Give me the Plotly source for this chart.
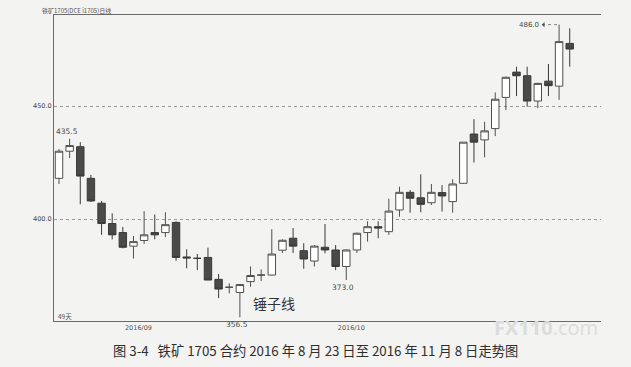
import plotly.graph_objects as go

# Trading days of the DCE iron ore contract i1705 (49 sessions)
dates = [
    "2016-08-23", "2016-08-24", "2016-08-25", "2016-08-26", "2016-08-29", "2016-08-30", "2016-08-31",
    "2016-09-01", "2016-09-02", "2016-09-05", "2016-09-06", "2016-09-07", "2016-09-08", "2016-09-09",
    "2016-09-12", "2016-09-13", "2016-09-14", "2016-09-19", "2016-09-20", "2016-09-21", "2016-09-22",
    "2016-09-23", "2016-09-26", "2016-09-27", "2016-09-28", "2016-09-29", "2016-09-30",
    "2016-10-10", "2016-10-11", "2016-10-12", "2016-10-13", "2016-10-14", "2016-10-17", "2016-10-18",
    "2016-10-19", "2016-10-20", "2016-10-21", "2016-10-24", "2016-10-25", "2016-10-26", "2016-10-27",
    "2016-10-28", "2016-10-31", "2016-11-01", "2016-11-02", "2016-11-03", "2016-11-04", "2016-11-07",
    "2016-11-08",
]

open_ = [418.0, 430.0, 432.0, 418.0, 407.0, 398.0, 394.0, 388.0, 390.5, 394.0,
         394.0, 398.5, 383.2, 382.6, 383.0, 373.3, 369.8, 367.5, 372.3, 375.2,
         375.2, 386.2, 391.5, 386.0, 381.4, 387.5, 386.3, 379.0, 386.3, 394.0,
         396.6, 394.4, 404.0, 411.8, 409.4, 407.2, 411.7, 407.7, 415.8, 437.6,
         435.0, 440.0, 453.8, 465.0, 463.4, 452.2, 461.0, 458.8, 477.7]
high = [431.0, 435.5, 434.0, 419.5, 408.0, 402.5, 396.5, 392.5, 403.5, 402.0,
        403.0, 399.0, 386.6, 384.5, 387.3, 375.7, 371.5, 371.2, 379.0, 377.7,
        395.5, 391.0, 396.0, 389.3, 388.5, 397.8, 388.5, 386.5, 394.0, 399.0,
        399.0, 409.0, 414.3, 412.8, 419.8, 415.5, 415.0, 417.6, 434.0, 444.2,
        443.0, 456.0, 463.0, 467.4, 467.4, 460.3, 468.6, 486.0, 484.4]
low = [415.5, 427.0, 406.5, 407.5, 393.0, 391.0, 387.0, 382.5, 389.0, 391.0,
       392.0, 381.5, 378.2, 377.4, 373.0, 365.0, 367.1, 356.5, 370.0, 372.6,
       375.0, 385.0, 385.0, 378.0, 379.0, 384.8, 377.4, 373.0, 385.0, 390.0,
       391.5, 393.0, 401.0, 402.8, 403.0, 406.2, 403.3, 402.8, 415.5, 425.0,
       427.3, 436.7, 448.2, 454.4, 449.7, 449.0, 454.4, 452.7, 467.4]
close = [430.0, 432.5, 419.0, 408.0, 398.0, 393.0, 387.5, 390.0, 393.0, 393.0,
         397.5, 383.0, 382.8, 382.6, 373.0, 369.0, 369.8, 371.0, 375.0, 375.2,
         384.5, 390.6, 388.0, 382.3, 388.0, 386.3, 379.0, 386.3, 393.7, 396.6,
         396.0, 403.5, 411.8, 409.2, 406.5, 411.8, 410.2, 415.5, 434.0, 434.0,
         439.0, 453.0, 462.7, 463.4, 452.2, 460.0, 459.0, 478.5, 475.2]

tick_dates = ["2016-09-01", "2016-10-10"]
tick_text = ["2016/09", "2016/10"]
y_ticks = [400, 450]

# Marked extremes: (session index, price, which end of the candle)
marks = [(1, 435.5, "high"), (17, 356.5, "low"), (27, 373.0, "low")]
peak = (47, 486.0)

title_text = "铁矿1705(DCE i1705)日线"
caption = "图 3-4   铁矿 1705 合约 2016 年 8 月 23 日至 2016 年 11 月 8 日走势图"

BG = "#f3f3f1"

fig = go.Figure(
    go.Candlestick(
        x=dates, open=open_, high=high, low=low, close=close,
        increasing=dict(line=dict(color="#505050", width=1), fillcolor="#ffffff"),
        decreasing=dict(line=dict(color="#3a3a3a", width=1), fillcolor="#4a4a4a"),
        whiskerwidth=0,
        hoverinfo="x+y",
    )
)

ann = []
for i, v, side in marks:
    ann.append(dict(
        x=dates[i], y=v, xref="x", yref="y", text=f"{v:.1f}", showarrow=False,
        xanchor="center", yanchor="bottom" if side == "high" else "top",
        xshift=-3, yshift=1 if side == "high" else -1,
        font=dict(size=7.5, color="#4a4a4a", family="DejaVu Sans"),
    ))

# Peak label with a dotted leader pointing back at the text
pk_i, pk_v = peak
ann.append(dict(
    x=pk_i - 1.7, y=pk_v, xref="x", yref="y", text=f"{pk_v:.1f}",
    showarrow=False, xanchor="right", yanchor="middle",
    font=dict(size=7, color="#4a4a4a", family="DejaVu Sans"),
))
ann.append(dict(
    x=pk_i - 1.62, y=pk_v, xref="x", yref="y", text="",
    showarrow=True, ax=4, ay=0, arrowhead=1, arrowsize=1.1,
    arrowwidth=0.8, arrowcolor="#555555", standoff=0,
))
shapes = [dict(
    type="line", xref="x", yref="y", x0=pk_i - 1.6, x1=pk_i, y0=pk_v, y1=pk_v,
    line=dict(color="#666666", width=0.8, dash="dot"),
)]

ann.append(dict(
    x=20.2, y=362.8, xref="x", yref="y", text="锤子线", showarrow=False,
    font=dict(size=14, color="#333333", family="Noto Sans CJK SC"),
))

ann.append(dict(
    x=0.003, y=0.016, xref="paper", yref="paper", text=f"{len(dates)}天",
    showarrow=False, xanchor="left", yanchor="middle",
    font=dict(size=6.5, color="#555555", family="Noto Sans CJK SC"),
))

ann.append(dict(
    x=-0.026, y=1.016, xref="paper", yref="paper", text=title_text,
    showarrow=False, xanchor="left", yanchor="middle",
    font=dict(size=6, color="#555555", family="Noto Sans CJK SC"),
))

ann.append(dict(
    x=0.998, y=-0.022, xref="paper", yref="paper",
    text="<b>FX110</b>.com", showarrow=False, xanchor="right", yanchor="middle",
    font=dict(size=20, color="#dcdcdc", family="Open Sans"),
))

ann.append(dict(
    x=0.478, y=-0.098, xref="paper", yref="paper", text=caption,
    showarrow=False, xanchor="center", yanchor="middle",
    font=dict(size=13.3, color="#2e2e2e", family="Noto Sans CJK SC"),
))

fig.update_layout(
    width=631, height=367,
    margin=dict(l=54, r=30, t=15, b=46),
    paper_bgcolor=BG, plot_bgcolor=BG,
    showlegend=False,
    annotations=ann,
    shapes=shapes,
    boxgap=0.3, boxgroupgap=0,
    xaxis=dict(
        type="category", range=[-0.47, 50.94],
        rangeslider=dict(visible=False),
        tickvals=tick_dates, ticktext=tick_text, ticklabelshift=5,
        showgrid=False, showline=True, mirror=True, linecolor="#6a6a6a", linewidth=1,
        ticks="", tickfont=dict(size=6.5, color="#555555", family="DejaVu Sans"),
        zeroline=False,
    ),
    yaxis=dict(
        range=[354.87, 490.27], tickvals=y_ticks, tickformat=".1f",
        showgrid=True, gridcolor="#9a9a9a", griddash="dot", gridwidth=1,
        showline=True, mirror=False, linecolor="#6a6a6a", linewidth=1,
        ticks="", tickfont=dict(size=6.5, color="#444444", family="DejaVu Sans"),
        zeroline=False,
    ),
)

fig.write_html("out.html")
